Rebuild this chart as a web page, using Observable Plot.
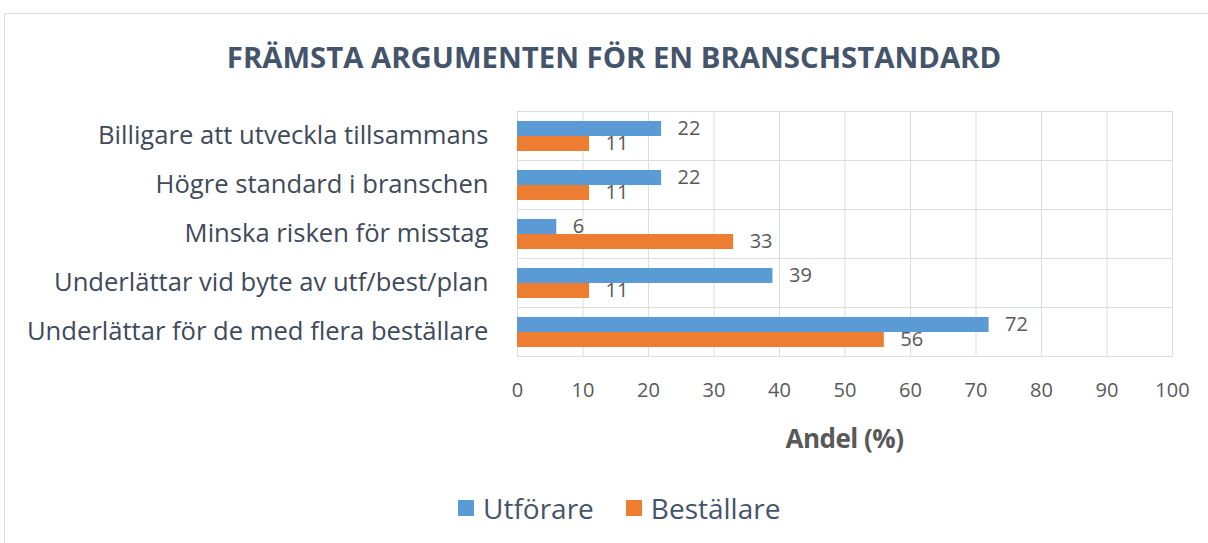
<!DOCTYPE html>
<html><head><meta charset="utf-8">
<script src="https://cdn.jsdelivr.net/npm/d3@7"></script>
<script src="https://cdn.jsdelivr.net/npm/@observablehq/plot@0.6"></script>
<style>
body{margin:0;background:#fff;font-family:"Open Sans",sans-serif;}
#wrap{position:relative;width:1208px;height:543px;overflow:hidden;}
#frame{position:absolute;left:4px;top:13px;width:1210px;height:540px;border:1px solid #dcdcdc;}
#title{position:absolute;left:0;width:1228px;top:37px;text-align:center;font-weight:700;font-size:29.3px;line-height:40px;color:#44546A;}
#chart{position:absolute;left:0;top:100px;}
#xlabel{position:absolute;left:517px;width:655px;top:420px;text-align:center;font-weight:700;font-size:26px;line-height:36px;color:#595959;letter-spacing:-0.5px;}
#legend{position:absolute;left:458px;top:488px;font-size:28px;line-height:40px;color:#44546A;display:flex;align-items:center;}
.sw{display:inline-block;width:16px;height:16px;margin-right:9px;}
.item{display:flex;align-items:center;margin-right:32px;}
</style></head>
<body>
<div id="wrap">
  <div id="frame"></div>
  <div id="title"></div>
  <div id="chart"></div>
  <div id="xlabel"></div>
  <div id="legend"></div>
</div>
<script>
const titleText = "FRÄMSTA ARGUMENTEN FÖR EN BRANSCHSTANDARD";
const xLabelText = "Andel (%)";
const categories = [
  "Billigare att utveckla tillsammans",
  "Högre standard i branschen",
  "Minska risken för misstag",
  "Underlättar vid byte av utf/best/plan",
  "Underlättar för de med flera beställare"
];
const series = ["Utförare", "Beställare"];
const utforare = [22, 22, 6, 39, 72];
const bestallare = [11, 11, 33, 11, 56];
const xTicks = [0, 10, 20, 30, 40, 50, 60, 70, 80, 90, 100];
const colors = ["#5B9BD5", "#ED7D31"];

const data = categories.flatMap((c, i) => [
  {category: c, series: series[0], value: utforare[i]},
  {category: c, series: series[1], value: bestallare[i]}
]);

document.getElementById("title").textContent = titleText;
document.getElementById("xlabel").textContent = xLabelText;

const chart = Plot.plot({
  width: 1208,
  height: 307,
  marginLeft: 517,
  marginRight: 36,
  marginTop: 10,
  marginBottom: 50,
  style: {fontFamily: "Open Sans, sans-serif", background: "transparent"},
  x: {domain: [0, 100]},
  fy: {domain: categories, padding: 0},
  y: {domain: series, paddingInner: 0, paddingOuter: 0.54, axis: null},
  color: {domain: series, range: colors},
  marks: [
    Plot.gridX(xTicks, {stroke: "#dadde3", strokeOpacity: 1}),
    Plot.frame({stroke: "#dadde3"}),
    Plot.barX(data, {fy: "category", y: "series", x: "value", fill: "series"}),
    Plot.text(data, {fy: "category", y: "series", x: "value", text: d => String(d.value),
      textAnchor: "start", dx: 16, fontSize: 20, fill: "#595959"}),
    Plot.axisX(xTicks, {tickSize: 0, tickPadding: 26, fontSize: 20, color: "#595959", label: null}),
    Plot.axisFy({anchor: "left", tickSize: 0, tickPadding: 29, fontSize: 25.6, color: "#404a5a", label: null})
  ]
});
document.getElementById("chart").appendChild(chart);

const legend = document.getElementById("legend");
series.forEach((s, i) => {
  const item = document.createElement("span");
  item.className = "item";
  const sw = document.createElement("span");
  sw.className = "sw";
  sw.style.background = colors[i];
  item.appendChild(sw);
  item.appendChild(document.createTextNode(s));
  legend.appendChild(item);
});
</script>
</body></html>
